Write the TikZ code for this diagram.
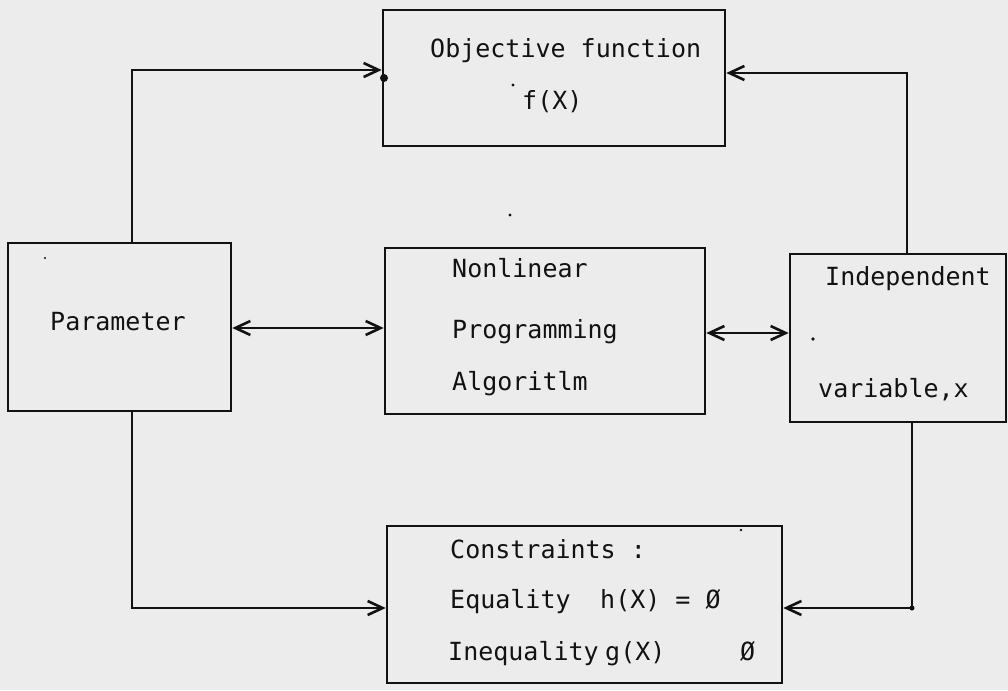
\documentclass[tikz,border=0pt]{standalone}
\usepackage{fontspec}
\setmonofont{DejaVu Sans Mono}
\usetikzlibrary{arrows.meta}
\definecolor{paper}{RGB}{236,236,236}
\definecolor{ink}{RGB}{18,18,18}
\tikzset{
  box/.style={draw=ink,line width=2.6pt,inner sep=0pt},
  lbl/.style={font=\ttfamily\fontsize{25}{30}\selectfont,inner sep=0pt,text=ink},
  conn/.style={draw=ink,line width=2.6pt,-{Straight Barb[length=15pt,width=14pt]}},
  conntwo/.style={draw=ink,line width=2.6pt,{Straight Barb[length=15pt,width=14pt]}-{Straight Barb[length=15pt,width=14pt]}},
  speck/.style={fill=ink}
}
\begin{document}
\begin{tikzpicture}[x=1pt,y=-1pt]
  % paper
  \fill[paper] (0,0) rectangle (1008,690);
  \useasboundingbox (0,0) rectangle (1008,690);

  % boxes
  \node[box,minimum width=342pt,minimum height=136pt] (obj)   at (554,78)    {};
  \node[box,minimum width=223pt,minimum height=168pt] (param) at (119.5,327) {};
  \node[box,minimum width=320pt,minimum height=166pt] (mid)   at (545,331)   {};
  \node[box,minimum width=216pt,minimum height=168pt] (indep) at (898,338)   {};
  \node[box,minimum width=395pt,minimum height=157pt] (cons)  at (584.5,604.5) {};

  % labels
  \node[lbl,anchor=base west] (objA) at (430,58)  {Objective function};
  \node[lbl,anchor=base west] (objB) at (522,110) {f(X)};
  \node[lbl,anchor=base west] (parA) at (50,330)  {Parameter};
  \node[lbl,anchor=base west] (midA) at (452,277) {Nonlinear};
  \node[lbl,anchor=base west] (midB) at (452,338) {Programming};
  \node[lbl,anchor=base west] (midC) at (452,390) {Algoritlm};
  \node[lbl,anchor=base west] (indA) at (825,285) {Independent};
  \node[lbl,anchor=base west] (indB) at (818,397) {variable,x};
  \node[lbl,anchor=base west] (conA) at (450,558) {Constraints :};
  \node[lbl,anchor=base west] (conB) at (450,608) {Equality};
  \node[lbl,anchor=base west] (conC) at (600,608) {h(X) = Ø};
  \node[lbl,anchor=base west] (conD) at (448,660) {Inequality};
  \node[lbl,anchor=base west] (conE) at (605,660) {g(X)};
  \node[lbl,anchor=base west] (conF) at (740,660) {Ø};

  % helper positions for the wires
  \coordinate (xl)  at (132,0);
  \coordinate (xr)  at (907,0);
  \coordinate (xrb) at (912,0);
  \coordinate (yt1) at (0,70);
  \coordinate (yt2) at (0,73);
  \coordinate (ym1) at (0,328);
  \coordinate (ym2) at (0,333);
  \coordinate (yb)  at (0,608);

  % wires
  \draw[conn] (param.north -| xl) |- (obj.west |- yt1);
  \draw[conn] (indep.north -| xr) |- (obj.east |- yt2);
  \draw[conntwo] (param.east |- ym1) -- (mid.west |- ym1);
  \draw[conntwo] (mid.east |- ym2) -- (indep.west |- ym2);
  \draw[conn] (param.south -| xl) |- (cons.west |- yb);
  \draw[conn] (indep.south -| xrb) |- (cons.east |- yb);

  % ink specks
  \fill[speck] (384,78) circle (4);
  \fill[speck] (912,608) circle (2.5);
  \fill[speck] (513,85) circle (1.6);
  \fill[speck] (510,215) circle (1.6);
  \fill[speck] (813,339) circle (1.8);
  \fill[speck] (45,258) circle (1.2);
  \fill[speck] (741,530) circle (1.4);
\end{tikzpicture}
\end{document}
